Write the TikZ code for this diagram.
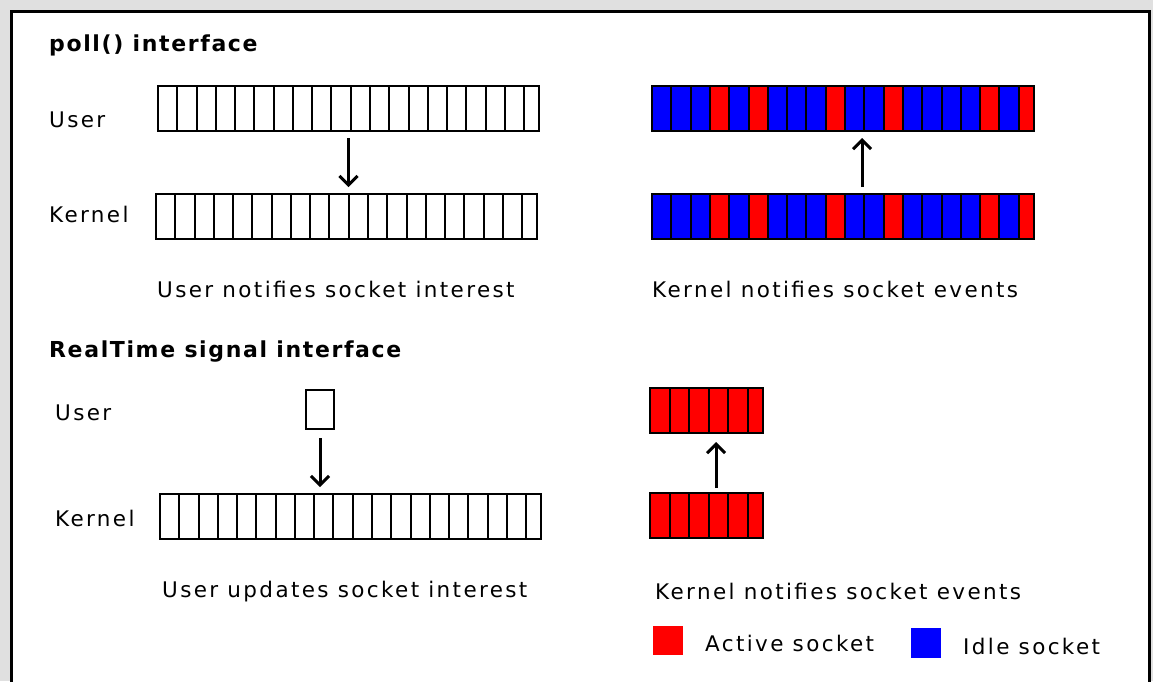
\documentclass[tikz,border=0pt]{standalone}
\usepackage{fontspec}
\usepackage{xcolor}
\usepackage{tikz}
\usetikzlibrary{arrows.meta}
\newfontfamily\guifont{DejaVu Sans}[LetterSpace=11]
\definecolor{panelgrey}{RGB}{224,224,224}

\begin{document}
\begin{tikzpicture}[
    x=1pt, y=-1pt,
    >={Straight Barb[length=9pt,width=18pt]},
    row/.style={rectangle, draw=black, line width=2pt, minimum height=45pt, inner sep=0pt, outer sep=0pt, anchor=north west},
    divider/.style={draw=black, line width=2pt},
    arrow/.style={->, line width=3pt, shorten <=7pt, shorten >=7pt},
    lbl/.style={font=\guifont\fontsize{21.5}{25}\selectfont, anchor=base west, inner sep=0pt},
    head/.style={lbl, font=\guifont\bfseries\fontsize{22}{26}\selectfont\addfontfeatures{LetterSpace=7.4}},
    key/.style={rectangle, minimum width=30pt, minimum height=29pt, inner sep=0pt, anchor=north west}
]

% Frame
\fill[panelgrey] (0,0) rectangle (1153,681);
\useasboundingbox (0,0) rectangle (1153,681);
\clip (0,0) rectangle (1153,681);
\draw[line width=3pt, fill=white] (11.5,11.5) rectangle (1149.5,700);

% poll() interface: user side
\node[head] (polltitle) at (49,51) {poll() interface};
\node[lbl] (puserlbl) at (49,127) {User};
\node[lbl] (pkernlbl) at (49,222) {Kernel};
\node[row, minimum width=381pt] (puser) at (158,86) {};
\node[row, minimum width=381pt] (pkern) at (156,194) {};
\foreach \i in {1,...,19} {
    \draw[divider] ([xshift=\i*19.27pt]puser.north west) -- ([xshift=\i*19.27pt]puser.south west);
    \draw[divider] ([xshift=\i*19.27pt]pkern.north west) -- ([xshift=\i*19.27pt]pkern.south west);
}
\draw[arrow] (puser.south) -- (puser.south |- pkern.north);
\node[lbl] (pusercap) at (157,297) {User notifies socket interest};

% poll() interface: kernel side
\node[row, minimum width=382pt, fill=blue] (pevu) at (652,86) {};
\node[row, minimum width=382pt, fill=blue] (pevk) at (652,194) {};
\foreach \r in {pevu,pevk} {
    \begin{scope}
    \clip (\r.north west) rectangle (\r.south east);
    \foreach \i in {3,5,9,12,17,19}
        \fill[red] ([xshift=\i*19.3pt]\r.north west) rectangle ([xshift=\i*19.3pt+19.3pt]\r.south west);
    \end{scope}
    \foreach \i in {1,...,19}
        \draw[divider] ([xshift=\i*19.3pt]\r.north west) -- ([xshift=\i*19.3pt]\r.south west);
    \draw[divider] (\r.north west) rectangle (\r.south east);
}
\draw[arrow] ([xshift=19pt]pevk.north) -- ([xshift=19pt]pevu.south);
\node[lbl] (pkerncap) at (652,297) {Kernel notifies socket events};

% RealTime signal interface: user side
\node[head] (rttitle) at (49,357) {RealTime signal interface};
\node[lbl] (ruserlbl) at (55,420) {User};
\node[lbl] (rkernlbl) at (55,526) {Kernel};
\node[row, minimum width=28pt, minimum height=39pt] (ruser) at (306,390) {};
\node[row, minimum width=381pt] (rkern) at (160,494) {};
\foreach \i in {1,...,19}
    \draw[divider] ([xshift=\i*19.27pt]rkern.north west) -- ([xshift=\i*19.27pt]rkern.south west);
\draw[arrow, shorten <=9pt] (ruser.south) -- (ruser.south |- rkern.north);
\node[lbl] (rusercap) at (162,597) {User updates socket interest};

% RealTime signal interface: kernel side
\node[row, minimum width=113pt, fill=red] (revu) at (650,388) {};
\node[row, minimum width=113pt, fill=red] (revk) at (650,493) {};
\foreach \i in {1,...,5} {
    \draw[divider] ([xshift=\i*19.5pt]revu.north west) -- ([xshift=\i*19.5pt]revu.south west);
    \draw[divider] ([xshift=\i*19.5pt]revk.north west) -- ([xshift=\i*19.5pt]revk.south west);
}
\draw[arrow, shorten <=5pt, shorten >=9pt] ([xshift=9.5pt]revk.north) -- ([xshift=9.5pt]revu.south);
\node[lbl] (rkerncap) at (655,599) {Kernel notifies socket events};

% Legend
\node[key, fill=red] (activekey) at (653,626) {};
\node[lbl] (activelbl) at (705,651) {Active socket};
\node[key, fill=blue, minimum height=30pt] (idlekey) at (911,628) {};
\node[lbl] (idlelbl) at (963,654) {Idle socket};

\end{tikzpicture}
\end{document}
